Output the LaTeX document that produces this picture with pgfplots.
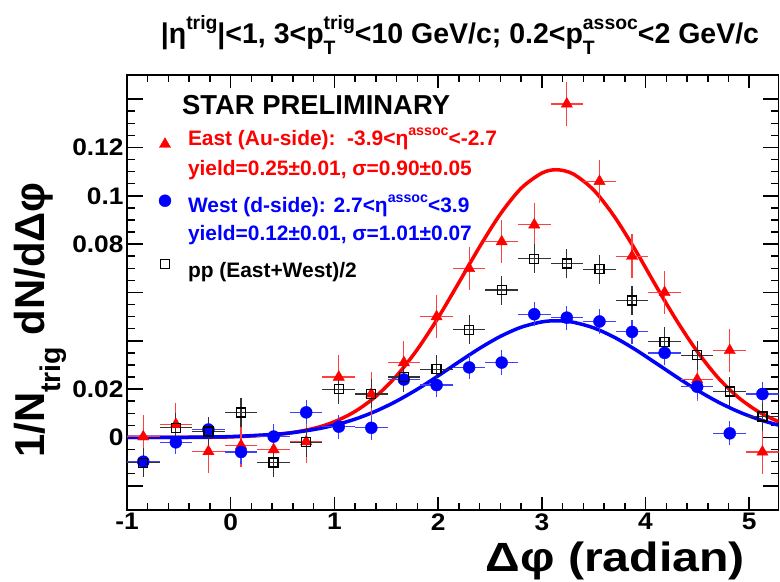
\documentclass[border=0pt]{standalone}
\usepackage{fontspec}
\setmainfont{Liberation Sans}
\newfontfamily\widefont[FakeStretch=1.1]{Liberation Sans}
\newfontfamily\widerfont[FakeStretch=1.18]{Liberation Sans}
\usepackage{graphicx}
\usepackage{pgfplots}
\pgfplotsset{compat=1.18}
\usepackage{pgfplotstable}

\newcommand\SUP[1]{\raisebox{0.5em}{\scalebox{0.68}{#1}}}
\newcommand\SUB[1]{\raisebox{-0.38em}{\scalebox{0.68}{#1}}}
\newcommand\SUPSUB[2]{\makebox[0pt][l]{\SUB{#1}}\SUP{#2}}
\newcommand\lstrut[1]{\rule{0pt}{#1}}
\pgfplotsset{legmark/.style={legend image code/.code={\draw[##1] plot coordinates {(0bp,#1)};}}}

\pgfplotstableread{
x y ex ey
-0.843 0.0003 0.157 0.009
-0.529 0.0054 0.157 0.009
-0.215 -0.0058 0.157 0.009
0.100 -0.0033 0.157 0.009
0.414 -0.0050 0.157 0.009
0.728 -0.0017 0.157 0.009
1.042 0.0250 0.157 0.009
1.356 0.0180 0.157 0.009
1.670 0.0310 0.157 0.009
1.985 0.0500 0.157 0.009
2.299 0.0700 0.157 0.009
2.613 0.0810 0.157 0.009
2.927 0.0880 0.157 0.009
3.241 0.1380 0.157 0.009
3.556 0.1060 0.157 0.009
3.870 0.0750 0.157 0.009
4.184 0.0600 0.157 0.009
4.498 0.0240 0.157 0.009
4.812 0.0360 0.157 0.009
5.127 -0.0060 0.157 0.009
}\east

\pgfplotstableread{
x y ex ey
-0.843 -0.0100 0.157 0.005
-0.529 -0.0020 0.157 0.005
-0.215 0.0033 0.157 0.005
0.100 -0.0060 0.157 0.005
0.414 0.0004 0.157 0.005
0.728 0.0104 0.157 0.005
1.042 0.0045 0.157 0.005
1.356 0.0040 0.157 0.005
1.670 0.0240 0.157 0.005
1.985 0.0217 0.157 0.005
2.299 0.0290 0.157 0.005
2.613 0.0310 0.157 0.005
2.927 0.0510 0.157 0.005
3.241 0.0496 0.157 0.005
3.556 0.0480 0.157 0.005
3.870 0.0437 0.157 0.005
4.184 0.0350 0.157 0.005
4.498 0.0210 0.157 0.005
4.812 0.0017 0.157 0.005
5.127 0.0180 0.157 0.005
}\west

\pgfplotstableread{
x y ex ey
-0.843 -0.0105 0.157 0.006
-0.529 0.0040 0.157 0.006
-0.215 0.0025 0.157 0.006
0.100 0.0104 0.157 0.006
0.414 -0.0103 0.157 0.006
0.728 -0.0020 0.157 0.006
1.042 0.0200 0.157 0.006
1.356 0.0180 0.157 0.006
1.670 0.0250 0.157 0.006
1.985 0.0283 0.157 0.006
2.299 0.0446 0.157 0.006
2.613 0.0610 0.157 0.006
2.927 0.0740 0.157 0.006
3.241 0.0720 0.157 0.006
3.556 0.0696 0.157 0.006
3.870 0.0567 0.157 0.006
4.184 0.0396 0.157 0.006
4.498 0.0340 0.157 0.006
4.812 0.0190 0.157 0.006
5.127 0.0087 0.157 0.006
}\pp

\begin{document}
\begin{tikzpicture}
\useasboundingbox (0,0) rectangle (780bp,582bp);
\begin{axis}[
  at={(127bp,72bp)}, anchor=south west,
  width=651.6bp, height=435bp, scale only axis,
  xmin=-1, xmax=5.2832, ymin=-0.03, ymax=0.15,
  xtick={-1,0,1,2,3,4,5}, xticklabels={-1,0,1,2,3,4,5},
  ytick={-0.02,0,0.02,0.04,0.06,0.08,0.1,0.12,0.14},
  yticklabels={,0,0.02,,,0.08,0.1,0.12,},
  scaled y ticks=false,
  minor x tick num=4, minor y tick num=3,
  tick align=inside,
  major tick length=16bp, minor tick length=8bp,
  xtick style={/pgfplots/major tick length=13bp,/pgfplots/minor tick length=7bp},
  every tick/.style={black, line width=1.5bp},
  axis line style={line width=1.5bp},
  ticklabel style={font=\fontsize{24}{28}\widefont\bfseries},
  legend style={at={(0,1)}, anchor=north west, xshift=32bp, yshift=-48.5bp,
    draw=none, fill=none, inner sep=0pt, outer sep=0pt, row sep=0pt, column sep=17bp,
    font=\fontsize{21}{25}\selectfont\bfseries, nodes={inner sep=0pt}},
  legend cell align=left,
]
\addplot[red, line width=3.5bp, smooth, forget plot] coordinates {
(-1.0,0.0000) (-0.5,0.00003) (0.0,0.00025) (0.5,0.00149) (0.8,0.00375) (1.0,0.00653)
(1.2,0.01081) (1.4,0.01704) (1.6,0.02555) (1.8,0.03648) (2.0,0.04956) (2.2,0.06410)
(2.4,0.07890) (2.6,0.09245) (2.8,0.1031) (3.0,0.1094) (3.1416,0.1108) (3.3,0.1091)
(3.5,0.1024) (3.7,0.0914) (3.9,0.0777) (4.1,0.0628) (4.3,0.0484) (4.5,0.0355)
(4.7,0.0247) (4.9,0.0164) (5.1,0.01038) (5.2832,0.00653)};
\addplot[blue, line width=3.5bp, smooth, forget plot] coordinates {
(-1.0,0.00001) (-0.5,0.00007) (0.0,0.00038) (0.5,0.00158) (0.8,0.00329) (1.0,0.00511)
(1.2,0.00761) (1.4,0.01092) (1.6,0.01507) (1.8,0.01999) (2.0,0.02550) (2.2,0.03128)
(2.4,0.03689) (2.6,0.04183) (2.8,0.04562) (3.0,0.04783) (3.1416,0.04830) (3.3,0.04771)
(3.5,0.04536) (3.7,0.04145) (3.9,0.03643) (4.1,0.03079) (4.3,0.02503) (4.5,0.01955)
(4.7,0.01468) (4.9,0.01061) (5.1,0.00737) (5.2832,0.00511)};

\addplot[only marks, mark=triangle*, mark size=6.5bp, color=red,
  mark options={fill=red, draw=red, line width=0.4bp}, legmark=-9bp,
  error bars/.cd, x dir=both, x explicit, y dir=both, y explicit, error mark=none,
  error bar style={line width=1.2bp, color=red!75}]
  table[x=x, y=y, x error=ex, y error=ey]{\east};
\addlegendentry{\color{red}\lstrut{22bp}East (Au-side):\ \ -3.9<η\SUP{assoc}<-2.7}
\addlegendimage{empty legend}
\addlegendentry{\color{red}\lstrut{28bp}yield=0.25±0.01, σ=0.90±0.05}

\addplot[only marks, mark=*, mark size=6bp, color=blue,
  mark options={fill=blue, draw=blue, line width=0.4bp}, legmark=-5bp,
  error bars/.cd, x dir=both, x explicit, y dir=both, y explicit, error mark=none,
  error bar style={line width=1.2bp, color=blue!75}]
  table[x=x, y=y, x error=ex, y error=ey]{\west};
\addlegendentry{\color{blue}\lstrut{36bp}West (d-side): 2.7<η\SUP{assoc}<3.9}
\addlegendimage{empty legend}
\addlegendentry{\color{blue}\lstrut{26bp}yield=0.12±0.01, σ=1.01±0.07}

\addplot[only marks, mark=square, mark size=4.5bp, color=black,
  mark options={draw=black, line width=1.3bp}, legmark=-3bp,
  error bars/.cd, x dir=both, x explicit, y dir=both, y explicit, error mark=none,
  error bar style={line width=1.2bp, color=black!80}]
  table[x=x, y=y, x error=ex, y error=ey]{\pp};
\addlegendentry{\lstrut{36bp}pp (East+West)/2}
\end{axis}

\node[anchor=west, inner sep=0pt, font=\fontsize{27.5}{31}\selectfont\bfseries] at (182bp,477bp) {STAR PRELIMINARY};
\node[anchor=base, inner sep=0pt, font=\fontsize{28.6}{33}\selectfont\bfseries] at (460bp,538bp)
  {|η\SUP{trig}|<1, 3<p\SUPSUB{T}{trig}<10 GeV/c; 0.2<p\SUPSUB{T}{assoc}<2 GeV/c};
\node[rotate=90, anchor=center, inner sep=0pt, font=\fontsize{42}{46}\selectfont\bfseries] at (40bp,262bp)
  {1/N\SUB{trig} dN/dΔφ};
\node[anchor=base east, inner sep=0pt, font=\fontsize{41}{45}\widerfont\bfseries] at (745bp,11bp)
  {Δφ (radian)};
\end{tikzpicture}
\end{document}
